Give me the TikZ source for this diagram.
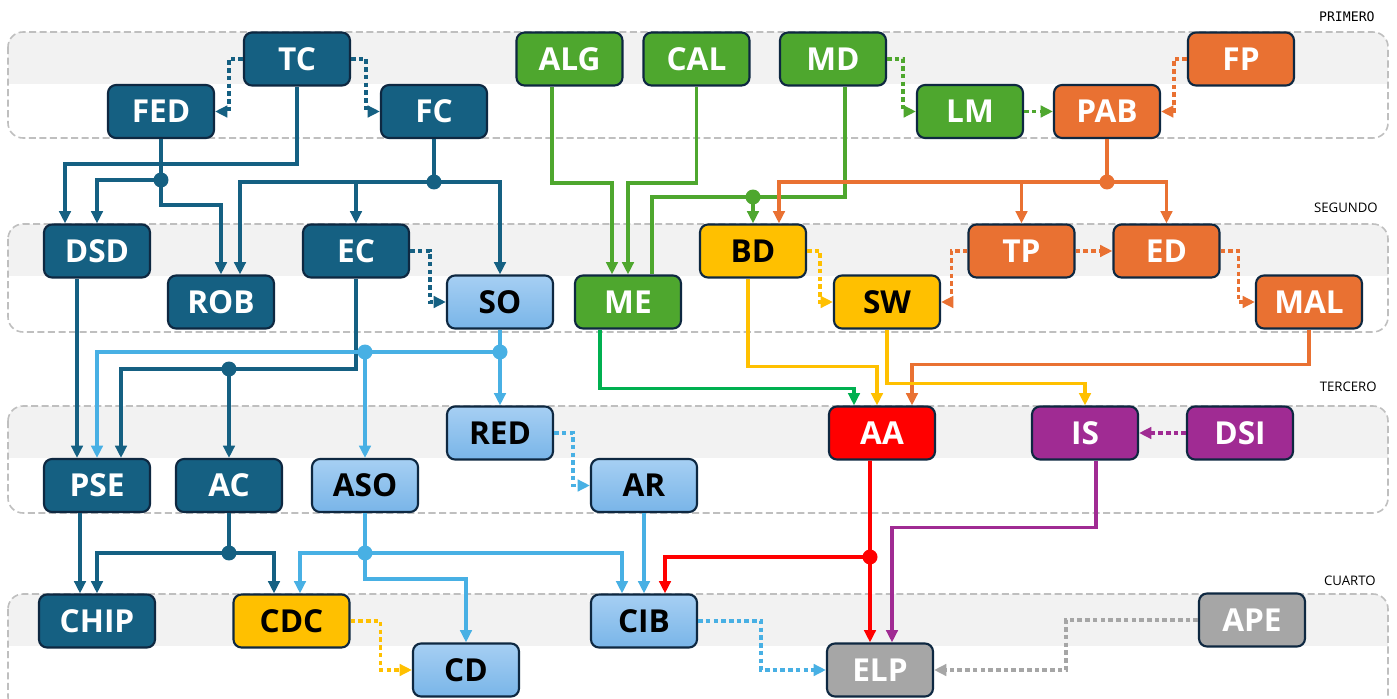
\documentclass[tikz,border=0pt]{standalone}
\usepackage{fontspec}
\setmainfont{Open Sans}
\newfontfamily\lanemono{DejaVu Sans Mono}
\usepackage{tikz}
\usetikzlibrary{arrows.meta,positioning}
\usepackage{xcolor}
\definecolor{ucblue}{HTML}{156082}
\definecolor{ucgreen}{HTML}{4EA72E}
\definecolor{ucbright}{HTML}{00B050}
\definecolor{ucorange}{HTML}{E97132}
\definecolor{ucpurple}{HTML}{A02B93}
\definecolor{ucyellow}{HTML}{FFC000}
\definecolor{ucred}{HTML}{FF0000}
\definecolor{ucgrey}{HTML}{A6A6A6}
\definecolor{ucsky}{RGB}{72,176,228}
\definecolor{ucskytop}{RGB}{166,207,243}
\definecolor{ucskybot}{RGB}{121,181,232}
\definecolor{ucborder}{HTML}{0E2841}
\definecolor{lanefill}{HTML}{F2F2F2}
\definecolor{laneline}{HTML}{BFBFBF}
\tikzstyle{course} = [rectangle, rounded corners=0.16cm, minimum width=2.12cm, minimum height=1.06cm, inner sep=2pt, text centered, draw=ucborder, line width=1.2pt, text=white, font=\fontsize{18}{20}\selectfont\bfseries]
\tikzstyle{cdark} = [course, fill=ucblue]
\tikzstyle{cgreen} = [course, fill=ucgreen]
\tikzstyle{corange} = [course, fill=ucorange]
\tikzstyle{cpurple} = [course, fill=ucpurple]
\tikzstyle{cred} = [course, fill=ucred]
\tikzstyle{cgrey} = [course, fill=ucgrey]
\tikzstyle{cyellow} = [course, fill=ucyellow, text=black]
\tikzstyle{clight} = [course, top color=ucskytop, bottom color=ucskybot, text=black]
\tikzstyle{wire} = [line width=2.2pt]
\tikzstyle{link} = [wire, -{Triangle[length=7pt,width=6.5pt]}]
\tikzstyle{dotlink} = [link, dash pattern=on 2.6pt off 1.8pt]
\tikzstyle{lane} = [draw=laneline, line width=0.9pt, dash pattern=on 4pt off 2pt, rounded corners=0.3cm]
\tikzstyle{lanelabel} = [anchor=east, inner sep=0pt, font=\fontsize{7.5}{8}\selectfont]

\begin{document}
\begin{tikzpicture}[x=0.02cm, y=-0.02cm]
\useasboundingbox (0,0) rectangle (1397,699);
\fill[white] (0,0) rectangle (1397,699);

% Lanes
\foreach \t/\b in {32/138, 224/332, 406/513, 594/712} {
  \begin{scope}
    \clip[rounded corners=0.3cm] (8,\t) rectangle (1388,\b);
    \fill[lanefill] (8,\t) rectangle (1388,\t+52);
  \end{scope}
  \draw[lane] (8,\t) rectangle (1388,\b);
}
\node[lanelabel, font=\lanemono\fontsize{7.5}{8}\selectfont] (lab1) at (1375,17) {PRIMERO};
\node[lanelabel] (lab2) at (1378,208) {SEGUNDO};
\node[lanelabel] (lab3) at (1377,387) {TERCERO};
\node[lanelabel] (lab4) at (1376,581) {CUARTO};

% Primero
\node[cdark] (TC) at (297,59) {TC};
\node[cdark] (FED) at (161,111.5) {FED};
\node[cdark] (FC) at (434,111.5) {FC};
\node[cgreen] (ALG) at (569.5,59) {ALG};
\node[cgreen] (CAL) at (696.5,59) {CAL};
\node[cgreen] (MD) at (833,59) {MD};
\node[cgreen] (LM) at (970,111.5) {LM};
\node[corange] (PAB) at (1107,111.5) {PAB};
\node[corange] (FP) at (1241,59) {FP};

% Segundo
\node[cdark] (DSD) at (97,251) {DSD};
\node[cdark] (ROB) at (221,302) {ROB};
\node[cdark] (EC) at (356,251) {EC};
\node[clight] (SO) at (500,302) {SO};
\node[cgreen] (ME) at (628,302) {ME};
\node[cyellow] (BD) at (753,251) {BD};
\node[cyellow] (SW) at (887,302) {SW};
\node[corange] (TP) at (1021.5,251) {TP};
\node[corange] (ED) at (1166.5,251) {ED};
\node[corange] (MAL) at (1309,302) {MAL};

% Tercero
\node[clight] (RED) at (500,433) {RED};
\node[cred] (AA) at (882,433) {AA};
\node[cpurple] (IS) at (1085,433) {IS};
\node[cpurple] (DSI) at (1240,433) {DSI};
\node[cdark] (PSE) at (97,485.5) {PSE};
\node[cdark] (AC) at (229,485.5) {AC};
\node[clight] (ASO) at (365,485.5) {ASO};
\node[clight] (AR) at (644,485.5) {AR};

% Cuarto
\node[cdark, minimum width=2.32cm] (CHIP) at (97,621) {CHIP};
\node[cyellow, minimum width=2.32cm] (CDC) at (291.5,621) {CDC};
\node[clight] (CIB) at (644,621) {CIB};
\node[cgrey] (APE) at (1252,620) {APE};
\node[clight] (CD) at (466,670) {CD};
\node[cgrey] (ELP) at (880,670) {ELP};

% Junctions
\coordinate (jFED) at (161,180);
\coordinate (jFC) at (434,182);
\coordinate (jEC) at (229,369);
\coordinate (jAC) at (229,553);
\coordinate (jSO) at (500,352);
\coordinate (jSO2) at (365,352);
\coordinate (jASO) at (365,553);
\coordinate (jMD) at (753,197);
\coordinate (jPAB) at (1107,182);
\coordinate (jAA) at (870,557);

% Arrows (dark blue)
\draw[dotlink, ucblue] (TC.west) -- ++(-14,0) |- (FED.east);
\draw[dotlink, ucblue] (TC.east) -- ++(15,0) |- (FC.west);
\draw[link, ucblue] (TC.south) -- ++(0,77.5) -| ([xshift=-0.64cm]DSD.north);
\draw[wire, ucblue] (FED.south) -- (jFED);
\draw[link, ucblue] (jFED) -| (DSD.north);
\draw[link, ucblue] (jFED) -- ++(0,25) -| (ROB.north);
\draw[wire, ucblue] (FC.south) -- (jFC);
\draw[link, ucblue] (jFC) -| ([xshift=0.38cm]ROB.north);
\draw[link, ucblue] (jFC) -| (EC.north);
\draw[link, ucblue] (jFC) -| (SO.north);
\draw[dotlink, ucblue] (EC.east) -- ++(20,0) |- (SO.west);
\draw[wire, ucblue] (EC.south) |- (jEC);
\draw[link, ucblue] (jEC) -| ([xshift=0.48cm]PSE.north);
\draw[link, ucblue] (jEC) -- (AC.north);
\draw[link, ucblue] ([xshift=-0.4cm]DSD.south) -- ([xshift=-0.4cm]PSE.north);
\draw[link, ucblue] ([xshift=-0.34cm]PSE.south) -- ([xshift=-0.34cm]CHIP.north);
\draw[wire, ucblue] (AC.south) -- (jAC);
\draw[link, ucblue] (jAC) -| (CHIP.north);
\draw[link, ucblue] (jAC) -| ([xshift=-0.35cm]CDC.north);

% Arrows (light blue)
\draw[wire, ucsky] (SO.south) -- (jSO);
\draw[link, ucsky] (jSO) -- (RED.north);
\draw[link, ucsky] (jSO) -| (PSE.north);
\draw[link, ucsky] (jSO2) -- (ASO.north);
\draw[dotlink, ucsky] (RED.east) -- ++(19,0) |- (AR.west);
\draw[link, ucsky] (AR.south) -- (CIB.north);
\draw[wire, ucsky] (ASO.south) -- (jASO);
\draw[link, ucsky] (jASO) -| ([xshift=0.17cm]CDC.north);
\draw[link, ucsky] (jASO) -| ([xshift=-0.44cm]CIB.north);
\draw[link, ucsky] (jASO) -- ++(0,26) -| (CD.north);
\draw[dotlink, ucsky] (CIB.east) -- ++(63,0) |- (ELP.west);

% Arrows (green)
\draw[link, ucgreen] ([xshift=-0.35cm]ALG.south) -- ++(0,96.5) -| ([xshift=-0.32cm]ME.north);
\draw[link, ucgreen] (CAL.south) -- ++(0,96.5) -| (ME.north);
\draw[wire, ucgreen] ([xshift=0.24cm]MD.south) |- (jMD) -| ([xshift=0.48cm]ME.north);
\draw[link, ucgreen] (jMD) -- (BD.north);
\draw[dotlink, ucgreen] (MD.east) -- ++(16,0) |- (LM.west);
\draw[dotlink, ucgreen] (LM.east) -- (PAB.west);
\draw[link, ucbright] ([xshift=-0.56cm]ME.south) -- ++(0,59) -| ([xshift=-0.56cm]AA.north);

% Arrows (orange)
\draw[dotlink, ucorange] (FP.west) -- ++(-13,0) |- (PAB.east);
\draw[wire, ucorange] (PAB.south) -- (jPAB);
\draw[link, ucorange] (jPAB) -| ([xshift=0.52cm]BD.north);
\draw[link, ucorange] (jPAB) -| (TP.north);
\draw[link, ucorange] (jPAB) -| (ED.north);
\draw[dotlink, ucorange] (TP.west) -- ++(-16,0) |- (SW.east);
\draw[dotlink, ucorange] (TP.east) -- (ED.west);
\draw[dotlink, ucorange] (ED.east) -- ++(18,0) |- (MAL.west);
\draw[link, ucorange] (MAL.south) -- ++(0,35) -| ([xshift=0.6cm]AA.north);

% Arrows (yellow)
\draw[dotlink, ucyellow] (BD.east) -- ++(13,0) |- (SW.west);
\draw[link, ucyellow] ([xshift=-0.1cm]BD.south) -- ++(0,88) -| ([xshift=-0.1cm]AA.north);
\draw[link, ucyellow] (SW.south) -- ++(0,54) -| (IS.north);
\draw[dotlink, ucyellow] (CDC.east) -- ++(30,0) |- (CD.west);

% Arrows (red, purple, grey)
\draw[wire, ucred] ([xshift=-0.24cm]AA.south) -- (jAA);
\draw[link, ucred] (jAA) -- ([xshift=-0.2cm]ELP.north);
\draw[link, ucred] (jAA) -| ([xshift=0.42cm]CIB.north);
\draw[link, ucpurple] ([xshift=0.22cm]IS.south) -- ++(0,67) -| ([xshift=0.24cm]ELP.north);
\draw[dotlink, ucpurple] (DSI.west) -- (IS.east);
\draw[dotlink, ucgrey] (APE.west) -- ++(-132,0) |- (ELP.east);

% Dots
\foreach \j in {jFED,jFC,jEC,jAC} \fill[ucblue] (\j) circle (0.15cm);
\foreach \j in {jSO,jSO2,jASO} \fill[ucsky] (\j) circle (0.15cm);
\fill[ucgreen] (jMD) circle (0.15cm);
\fill[ucorange] (jPAB) circle (0.15cm);
\fill[ucred] (jAA) circle (0.15cm);
\end{tikzpicture}
\end{document}
